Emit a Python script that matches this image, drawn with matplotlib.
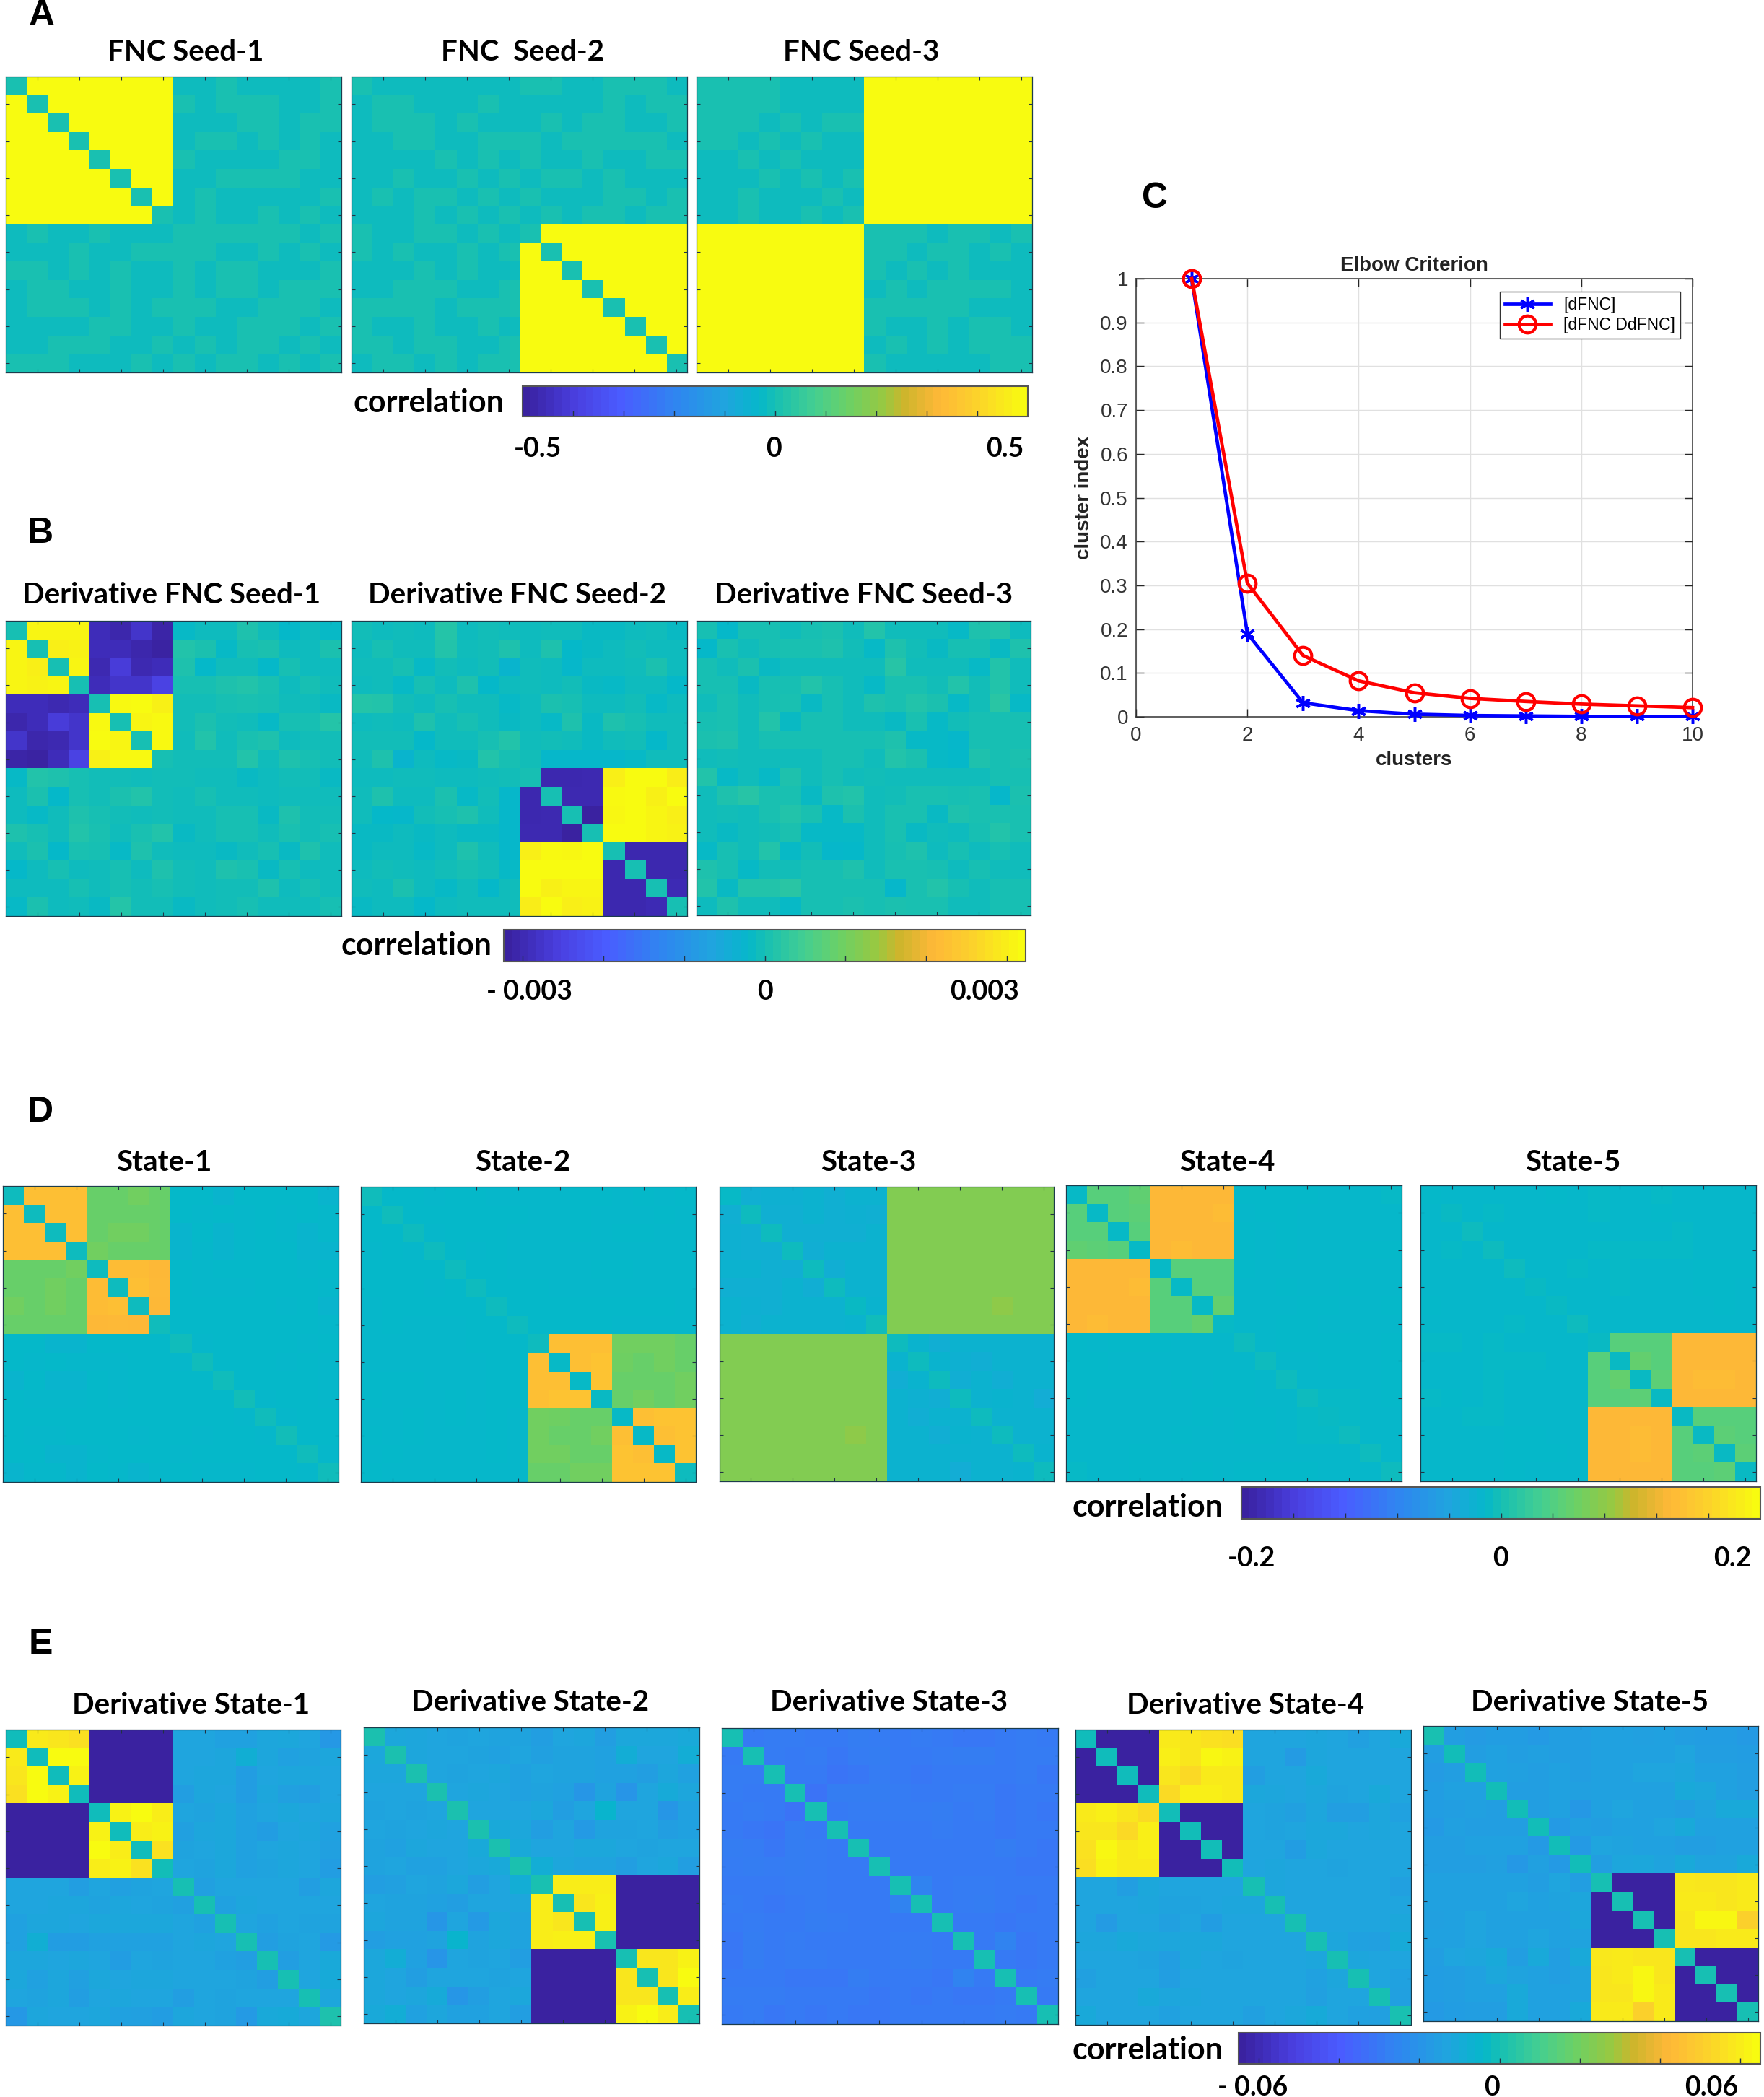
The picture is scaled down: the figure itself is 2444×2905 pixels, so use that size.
import numpy as np
import matplotlib
matplotlib.use("Agg")
import matplotlib.pyplot as plt
from matplotlib.colors import LinearSegmentedColormap

W, H = 2444, 2905

# cells are percent of the colour limit of the row of panels, upper triangle only
fnc_seed1 = [
    [1] + [100]*7 + [-3, -3, 1, -3, -3, -3, -3, 1],
    [1] + [100]*6 + [1, -3, 1, 1, 1, -3, -3, 1],
    [1] + [100]*5 + [-3, -3, -3, 1, 1, -3, 1, 1],
    [1] + [100]*4 + [-3, 1, 1, -3, 1, -3, 1, -3],
    [1] + [100]*3 + [1, -3, -3, -3, -3, 1, 1, -3],
    [1] + [100]*2 + [-3, -3, 1, 1, 1, 1, -3, -3],
    [1, 100, -3, 1, -3, -3, -3, -3, -3, 1],
    [1, -3, 1, -3, -3, 1, -3, 1, -3],
    [1, 1, 1, 1, 1, 1, -3, 1],
    [1, -3, -3, 1, -3, 1, -3],
    [1, 1, -3, -3, -3, 1],
    [1, -3, 1, 1, 1],
    [1, 1, 1, -3],
    [1, -3, 1],
    [1, -3],
    [1],
]
fnc_seed2 = [
    [1, -3, -3, -3, -3, -3, -3, -3, 1, 1, -3, -3, 1, 1, 1, -3],
    [1, 1, -3, -3, -3, 1, -3, -3, -3, -3, -3, 1, -3, 1, 1],
    [1, 1, -3, 1, -3, -3, -3, 1, -3, 1, 1, -3, -3, 1],
    [1, -3, -3, 1, 1, 1, -3, 1, 1, 1, 1, 1, -3],
    [1, -3, 1, -3, 1, -3, -3, 1, -3, -3, 1, 1],
    [1, -3, 1, -3, 1, 1, -3, 1, -3, -3, -3],
    [1, -3, 1, -3, -3, -3, 1, 1, -3, 1],
    [1, -3, 1, -3, 1, 1, -3, 1, 1],
    [1] + [100]*7,
    [1] + [100]*6,
    [1] + [100]*5,
    [1] + [100]*4,
    [1] + [100]*3,
    [1, 100, 100],
    [1, 100],
    [1],
]
fnc_seed3 = [
    [1, 1, 1, 1, -3, -3, -3, -3] + [100]*8,
    [1, 1, 1, -3, -3, -3, -3] + [100]*8,
    [1, -3, 1, -3, 1, 1] + [100]*8,
    [1, -3, 1, -3, -3] + [100]*8,
    [1, -3, -3, -3] + [100]*8,
    [1, -3, 1] + [100]*8,
    [1, -3] + [100]*8,
    [1] + [100]*8,
    [1, 1, 1, -3, 1, 1, -3, 1],
    [1, -3, 1, 1, -3, 1, -3],
    [1, -3, 1, -3, -3, -3],
    [1, 1, 1, 1, -3],
    [1, -3, -3, -3],
    [1, 1, -3],
    [1, 1],
    [1],
]
dfnc_seed1 = [
    [0, 97, 97, 97, -92, -96, -86, -97, -5, -3, -3, 3, -2, -6, -3, -5],
    [0, 94, 96, -92, -92, -96, -99, 4, 2, -5, 0, 2, -3, -3, 2],
    [0, 97, -94, -82, -94, -92, 3, -6, -2, -2, -6, 0, -3, -3],
    [0, -92, -86, -86, -78, 0, 0, 3, 4, 1, -3, 0, -2],
    [0, 99, 100, 95, -1, -1, 0, 1, 0, -2, -2, -4],
    [0, 97, 99, -1, 2, -1, -2, -5, 0, 0, 5],
    [0, 99, -2, 4, -2, 1, 3, -3, -1, -1],
    [0, -1, -1, -1, 4, -2, 3, 0, -1],
    [-1, -2, -2, -4, -3, -1, -1, -4],
    [0, -2, -2, -3, -2, -2, -2],
    [0, 0, -4, 3, -1, -1],
    [0, -2, 1, -1, 0],
    [0, -4, 3, -2],
    [0, -3, -2],
    [0, -2],
    [0],
]
dfnc_seed2 = [
    [-1, -3, -2, -3, 5, -3, -1, -2, -3, -2, -2, -4, -4, -3, -2, -4],
    [0, -2, -2, 4, -2, -1, 3, -3, 3, -6, -4, -3, -1, -3, -3],
    [0, -5, -1, -3, -1, -8, -2, -3, -7, -3, -3, -2, 2, -3],
    [0, -3, 3, -6, -3, -2, -3, -1, -4, -5, -3, -3, -6],
    [0, -2, -2, -5, -3, 2, 0, -3, -3, -1, -5, -3],
    [0, -2, -4, -3, -5, 3, -4, 3, 0, -2, -2],
    [0, 4, -2, -1, -2, -4, -2, -1, -6, -2],
    [0, -1, -7, -7, -7, -7, -5, -2, -2],
    [0, -95, -95, -94, 94, 100, 100, 93],
    [0, -94, -94, 99, 100, 95, 100],
    [0, -100, 98, 100, 97, 94],
    [0, 100, 100, 97, 96],
    [0, -95, -95, -95],
    [0, -95, -95],
    [0, -93],
    [0],
]
dfnc_seed3 = [
    [0, -6, 0, 0, -2, 0, 2, -2, 4, -2, -2, -2, -5, 3, 4, -3],
    [1, -2, 0, 1, 1, 3, -1, -5, 3, -1, -4, 0, 0, -4, 3],
    [2, -4, -2, -2, -2, -2, -2, 6, -2, -2, -2, -5, 4, -2],
    [0, 0, 4, 0, -2, -5, 1, 1, -1, 4, -1, 4, -2],
    [1, -4, 0, -2, 3, 1, 4, 2, -5, -1, 7, -5],
    [0, 0, -2, -2, -4, 1, -5, -1, 0, 0, 0],
    [0, 0, 0, 3, -5, -5, -7, 0, 0, 0],
    [0, -2, 4, 2, -5, -6, 3, 0, 2],
    [-1, -2, -2, -2, -2, -2, 0, 0],
    [-1, 1, 1, 0, 1, -7, 2],
    [1, -4, 3, 1, 1, 1],
    [-2, -3, 0, 4, 1],
    [0, -3, 0, -2],
    [0, -2, -2],
    [0, 0],
    [0],
]

state1 = [
    [-3, 70, 70, 70, 28, 28, 31, 28, -6, -6, -8, -6, -6, -6, -6, -8],
    [-3, 70, 70, 28, 28, 28, 28, -6, -7, -6, -7, -6, -7, -6, -7],
    [-3, 70, 28, 31, 31, 28, -8, -6, -8, -7, -6, -7, -8, -7],
    [-3, 31, 28, 28, 28, -8, -7, -8, -7, -6, -6, -8, -8],
    [-3, 68, 68, 66, -6, -7, -6, -6, -6, -6, -7, -6],
    [-3, 70, 67, -6, -7, -7, -7, -6, -6, -6, -7],
    [-3, 66, -6, -6, -6, -6, -6, -7, -6, -8],
    [-2, -6, -6, -6, -6, -6, -6, -6, -7],
    [-2, -7, -6, -6, -6, -6, -7, -6],
    [-2, -6, -6, -6, -7, -6, -7],
    [-2, -6, -6, -6, -6, -7],
    [-1, -7, -6, -6, -7],
    [-2, -7, -6, -6],
    [-1, -6, -6],
    [-2, -7],
    [-2],
]
state2 = [
    [-2, -6, -6, -7, -6, -6, -7, -7, -7, -7, -6, -6, -7, -6, -7, -6],
    [-2, -6, -6, -6, -6, -6, -6, -7, -7, -6, -7, -7, -7, -6, -7],
    [-3, -7, -6, -6, -6, -7, -7, -7, -6, -7, -6, -6, -7, -7],
    [-3, -6, -7, -6, -7, -7, -7, -7, -7, -7, -7, -7, -7],
    [-3, -6, -6, -7, -7, -7, -7, -6, -6, -7, -7, -7],
    [-3, -6, -6, -6, -7, -7, -7, -7, -7, -7, -7],
    [-3, -6, -6, -6, -6, -6, -6, -6, -6, -7],
    [-3, -6, -6, -6, -6, -7, -7, -7, -7],
    [-3, 70, 70, 70, 31, 31, 31, 28],
    [-5, 70, 72, 30, 28, 31, 28],
    [-5, 72, 28, 28, 28, 31],
    [-4, 28, 31, 28, 31],
    [-5, 70, 72, 72],
    [-5, 70, 72],
    [-5, 72],
    [-3],
]
state3 = [
    [-5, -12, -11, -11, -10, -12, -10, -10] + [36]*8,
    [-3, -12, -12, -10, -12, -11, -12] + [36]*8,
    [-3, -12, -12, -12, -12, -10] + [36]*8,
    [-3, -13, -10, -10, -10] + [36]*8,
    [-3, -13, -10, -10] + [36]*8,
    [-3, -10, -10] + [36]*8,
    [-4, -9, 36, 36, 36, 36, 36, 40, 36, 36],
    [-2] + [36]*8,
    [-3, -9, -13, -10, -10, -10, -10, -10],
    [-3, -9, -11, -13, -10, -10, -10],
    [-3, -13, -10, -13, -10, -10],
    [-3, -10, -9, -10, -14],
    [-3, -10, -10, -10],
    [-3, -10, -10],
    [-3, -9],
    [-3],
]
state4 = [
    [-5, 22, 22, 25, 66, 66, 66, 66, -6, -6, -6, -6, -7, -7, -7, -5],
    [-5, 22, 24, 66, 66, 66, 68, -7, -6, -6, -7, -7, -7, -7, -7],
    [-5, 22, 66, 66, 66, 66, -6, -7, -6, -7, -7, -7, -7, -7],
    [-5, 66, 68, 66, 66, -6, -7, -6, -7, -7, -7, -6, -6],
    [-5, 22, 22, 22, -6, -7, -7, -7, -7, -7, -7, -7],
    [-5, 22, 22, -7, -7, -6, -7, -7, -6, -7, -7],
    [-5, 26, -7, -7, -7, -6, -6, -7, -7, -6],
    [-5, -7, -7, -6, -6, -7, -7, -7, -7],
    [-3, -7, -6, -6, -6, -6, -7, -6],
    [-3, -7, -7, -6, -6, -7, -6],
    [-3, -7, -7, -7, -7, -6],
    [-3, -5, -5, -7, -6],
    [-4, -5, -7, -7],
    [-3, -7, -7],
    [-3, -7],
    [-3],
]
state5 = [
    [-6, -7, -7, -7, -7, -7, -6, -7, -5, -7, -7, -5, -7, -7, -7, -7],
    [-4, -7, -5, -7, -7, -7, -7, -5, -7, -7, -6, -7, -7, -7, -7],
    [-3, -7, -7, -7, -7, -7, -7, -7, -7, -7, -5, -7, -7, -7],
    [-3, -7, -7, -7, -7, -5, -5, -5, -5, -5, -7, -7, -7],
    [-3, -7, -7, -5, -7, -5, -7, -7, -7, -6, -6, -6],
    [-4, -7, -7, -7, -5, -7, -7, -7, -6, -6, -7],
    [-4, -7, -7, -7, -7, -7, -7, -7, -6, -7],
    [-3, -7, -7, -7, -7, -7, -7, -7, -7],
    [-4, 22, 22, 22, 66, 66, 66, 66],
    [-4, 26, 22, 66, 66, 66, 66],
    [-4, 24, 66, 68, 68, 66],
    [-4, 66, 66, 66, 66],
    [-4, 22, 22, 22],
    [-4, 24, 22],
    [-4, 24],
    [-4],
]

dstate1 = [
    [-2, 92, 90, 87] + [-100]*4 + [-20, -20, -22, -22, -19, -18, -20, -28],
    [-2, 100, 100] + [-100]*4 + [-20, -20, -19, -13, -19, -22, -21, -19],
    [-2, 96] + [-100]*4 + [-20, -19, -19, -25, -20, -19, -19, -20],
    [-2] + [-100]*4 + [-24, -19, -20, -25, -19, -23, -24, -20],
    [-2, 96, 100, 93, -20, -21, -18, -22, -20, -18, -20, -19],
    [-2, 93, 96, -23, -19, -18, -22, -25, -20, -19, -22],
    [-2, 88, -21, -20, -18, -22, -20, -19, -20, -23],
    [-1, -20, -21, -18, -22, -21, -19, -20, -25],
    [0, -23, -20, -20, -20, -20, -24, -19],
    [0, -22, -19, -20, -20, -20, -20],
    [0, -20, -22, -20, -21, -21],
    [0, -24, -21, -20, -27],
    [0, -24, -20, -17],
    [0, -20, -16],
    [0, -19],
    [3],
]
dstate2 = [
    [2, -18, -19, -20, -21, -20, -21, -21, -24, -20, -19, -24, -18, -18, -18, -17],
    [2, -19, -20, -20, -21, -22, -20, -23, -21, -21, -22, -14, -20, -20, -14],
    [2, -20, -21, -20, -19, -22, -20, -21, -21, -22, -22, -24, -19, -22],
    [2, -20, -19, -20, -22, -21, -22, -29, -21, -30, -20, -16, -19],
    [2, -20, -20, -20, -18, -24, -20, -8, -20, -20, -29, -22],
    [2, -17, -18, -24, -20, -27, -21, -21, -20, -24, -22],
    [2, -17, -20, -20, -18, -18, -20, -21, -20, -20],
    [2, -14, -19, -21, -21, -24, -20, -18, -24],
    [1, 93, 93, 93] + [-100]*4,
    [0, 90, 95] + [-100]*4,
    [0, 95] + [-100]*4,
    [1] + [-100]*4,
    [0, 90, 90, 96],
    [0, 90, 100],
    [0, 93],
    [0],
]
dstate3 = [
    [0, -46, -45, -45, -46, -46, -44, -45, -46, -45, -46, -47, -47, -46, -45, -46],
    [0, -45, -46, -45, -47, -45, -44, -46, -46, -45, -44, -44, -46, -45, -45],
    [0, -46, -46, -49, -47, -45, -46, -47, -46, -46, -46, -46, -45, -47],
    [0, -50, -44, -44, -44, -45, -46, -46, -45, -45, -47, -46, -46],
    [0, -46, -45, -45, -45, -45, -44, -46, -45, -47, -46, -47],
    [0, -46, -46, -46, -46, -45, -46, -46, -47, -46, -46],
    [0, -46, -46, -46, -46, -46, -46, -44, -46, -47],
    [0, -46, -46, -46, -46, -46, -46, -47, -47],
    [0, -41, -46, -45, -45, -46, -46, -46],
    [0, -46, -45, -44, -46, -47, -46],
    [0, -46, -46, -47, -46, -46],
    [0, -46, -41, -47, -46],
    [0, -46, -47, -46],
    [0, -46, -45],
    [0, -46],
    [0],
]
dstate4 = [
    [-2, -100, -100, -100, 92, 90, 88, 86, -20, -20, -20, -19, -20, -23, -20, -17],
    [-2, -100, -100, 94, 90, 98, 96, -20, -20, -26, -19, -20, -20, -20, -20],
    [-2, -100, 90, 84, 92, 92, -24, -20, -20, -17, -20, -20, -20, -20],
    [-2, 85, 94, 94, 92, -18, -19, -20, -18, -21, -20, -17, -20],
    [-1, -100, -100, -100, -20, -21, -23, -19, -24, -24, -19, -22],
    [-1, -100, -100, -20, -21, -20, -18, -18, -20, -19, -20],
    [-1, -100, -20, -20, -25, -18, -20, -20, -20, -20],
    [-1, -20, -19, -20, -20, -21, -20, -20, -20],
    [0, -19, -20, -20, -20, -20, -20, -23],
    [0, -20, -20, -20, -20, -20, -20],
    [0, -20, -20, -20, -20, -18],
    [0, -19, -22, -23, -16],
    [0, -19, -20, -20],
    [0, -20, -22],
    [0, -23],
    [1],
]
dstate5 = [
    [1, -24, -26, -25, -25, -27, -24, -24, -22, -22, -23, -22, -24, -25, -25, -27],
    [-1, -24, -22, -24, -23, -24, -24, -22, -22, -22, -22, -20, -24, -24, -25],
    [-1, -22, -23, -24, -22, -24, -22, -22, -20, -20, -19, -22, -22, -24],
    [-1, -24, -24, -22, -23, -22, -22, -22, -22, -17, -18, -22, -24],
    [-1, -24, -22, -28, -22, -20, -22, -22, -24, -21, -17, -17],
    [-1, -27, -23, -24, -22, -22, -20, -17, -22, -22, -22],
    [-1, -27, -20, -21, -22, -22, -24, -24, -22, -22],
    [-1, -24, -19, -18, -21, -17, -21, -21, -17],
    [0, -100, -100, -100, 91, 90, 90, 92],
    [0, -100, -100, 92, 92, 90, 92],
    [0, -100, 90, 98, 98, 80],
    [0, 90, 90, 92, 92],
    [0, -100, -100, -100],
    [0, -100, -100],
    [0, -100],
    [0],
]

clusters = [1, 2, 3, 4, 5, 6, 7, 8, 9, 10]
dfnc_index = [1, 0.19, 0.032, 0.014, 0.006, 0.003, 0.002, 0.001, 0.001, 0.001]
both_index = [1, 0.305, 0.14, 0.082, 0.055, 0.042, 0.035, 0.029, 0.025, 0.021]

anchors = [(0, "#3a22a0"), (0.05, "#4030c0"), (0.1, "#4a3fe0"), (0.19, "#4a5cff"),
           (0.3, "#2f86f0"), (0.4, "#1fa5de"), (0.47, "#05b8ca"), (0.5, "#16bfb4"),
           (0.58, "#45cf90"), (0.65, "#6ed063"), (0.72, "#9ac840"), (0.76, "#cdb52c"),
           (0.83, "#feb838"), (0.9, "#fcd02c"), (1, "#f8fb10")]
cmap = LinearSegmentedColormap.from_list("fnc", anchors, N=256)

fig = plt.figure(figsize=(W/100, H/100), dpi=100, facecolor="white")


def px_axes(x0, y0, x1, y1):
    return fig.add_axes([x0/W, 1 - y1/H, (x1 - x0)/W, (y1 - y0)/H])


def label(x, y, s, size=29, family="Lato", **kw):
    fig.text(x/W, 1 - y/H, s, fontsize=size, family=family, fontweight="bold",
             ha="center", va="center", color="black", **kw)


def sym(rows):
    m = np.zeros((16, 16))
    for i, row in enumerate(rows):
        m[i, i:] = row
        m[i:, i] = row
    return m


def panel(box, rows, lim, title, title_xy):
    ax = px_axes(*box)
    ax.imshow(sym(rows)/100*lim, cmap=cmap, vmin=-lim, vmax=lim, aspect="auto",
              interpolation="nearest", extent=(0.5, 16.5, 16.5, 0.5))
    ax.set_xticks(range(2, 17, 2))
    ax.set_yticks(range(2, 17, 2))
    ax.tick_params(direction="in", length=3.5, width=0.8, color="#223344",
                   top=True, right=True, labelbottom=False, labelleft=False)
    for s in ax.spines.values():
        s.set_linewidth(0.9)
        s.set_color("#1c3c4c")
    label(title_xy[0], title_xy[1], title)
    return ax


def colorbar(box, lim, ticks, text_xy, names, name_xy):
    cax = px_axes(*box)
    sm = plt.cm.ScalarMappable(norm=plt.Normalize(-lim, lim), cmap=cmap.resampled(64))
    cb = fig.colorbar(sm, cax=cax, orientation="horizontal")
    cb.set_ticks(ticks)
    cb.minorticks_off()
    cax.tick_params(axis="x", direction="in", length=6, width=1, color="#223344",
                    labelbottom=False)
    cb.outline.set_edgecolor("#555555")
    cb.outline.set_linewidth(1.5)
    label(name_xy[0], name_xy[1], "correlation", size=31)
    for (x, y), s in zip(text_xy, names):
        label(x, y, s, size=27)


# A
panel((8, 106, 473, 516), fnc_seed1, 0.5, "FNC Seed-1", (257, 72))
panel((487, 106, 952, 516), fnc_seed2, 0.5, "FNC  Seed-2", (724, 72))
panel((965, 106, 1430, 516), fnc_seed3, 0.5, "FNC Seed-3", (1193, 72))
colorbar((724, 535, 1424, 577), 0.5, np.arange(-0.4, 0.41, 0.1),
         [(745, 622), (1072, 622), (1392, 622)], ["-0.5", "0", "0.5"], (594, 558))

# B
panel((8, 860, 473, 1269), dfnc_seed1, 0.0032, "Derivative FNC Seed-1", (238, 824))
panel((487, 860, 952, 1269), dfnc_seed2, 0.0032, "Derivative FNC Seed-2", (717, 824))
panel((965, 860, 1428, 1268), dfnc_seed3, 0.0032, "Derivative FNC Seed-3", (1197, 824))
colorbar((698, 1288, 1421, 1332), 0.00323, np.arange(-0.003, 0.0031, 0.001),
         [(733, 1374), (1060, 1374), (1364, 1374)], ["- 0.003", "0", "0.003"], (577, 1310))

# D
panel((4, 1643, 469, 2053), state1, 0.25, "State-1", (227, 1611))
panel((500, 1644, 964, 2053), state2, 0.25, "State-2", (724, 1611))
panel((997, 1644, 1460, 2052), state3, 0.25, "State-3", (1203, 1611))
panel((1477, 1642, 1942, 2052), state4, 0.25, "State-4", (1700, 1611))
panel((1968, 1642, 2433, 2052), state5, 0.25, "State-5", (2179, 1611))
colorbar((1720, 2060, 2439, 2104), 0.25, np.arange(-0.2, 0.21, 0.05),
         [(1734, 2159), (2079, 2159), (2400, 2159)], ["-0.2", "0", "0.2"], (1590, 2088))

# E
panel((8, 2396, 472, 2806), dstate1, 0.065, "Derivative State-1", (265, 2363))
panel((504, 2393, 969, 2803), dstate2, 0.065, "Derivative State-2", (735, 2358))
panel((1000, 2394, 1466, 2804), dstate3, 0.065, "Derivative State-3", (1232, 2358))
panel((1490, 2396, 1955, 2805), dstate4, 0.065, "Derivative State-4", (1726, 2362))
panel((1972, 2391, 2436, 2800), dstate5, 0.065, "Derivative State-5", (2203, 2358))
colorbar((1716, 2816, 2439, 2859), 0.065, np.arange(-0.06, 0.061, 0.02),
         [(1736, 2892), (2067, 2892), (2371, 2892)], ["- 0.06", "0", "0.06"], (1590, 2840))

# C
ax = px_axes(1574, 386, 2345, 993)
ax.plot(clusters, dfnc_index, color="#0000ff", lw=3.4, marker=(6, 2, 0), ms=15, mew=2.5,
        label="[dFNC]", clip_on=False, zorder=3)
ax.plot(clusters, both_index, color="#ff0000", lw=3.4, marker="o", ms=17, mew=3,
        mfc="none", label="[dFNC DdFNC]", clip_on=False, zorder=4)
ax.set_xlim(0, 10)
ax.set_ylim(0, 1)
ax.set_xticks(range(0, 11, 2))
ax.set_yticks(np.arange(0, 1.01, 0.1))
ax.set_yticklabels(["0", "0.1", "0.2", "0.3", "0.4", "0.5", "0.6", "0.7", "0.8", "0.9", "1"])
ax.grid(color="#e0e0e0", lw=1)
ax.set_axisbelow(True)
ax.tick_params(direction="in", length=8, width=1, color="#262626", top=True, right=True,
               labelsize=20, labelcolor="#333333")
ax.tick_params(axis="x", pad=9)
ax.tick_params(axis="y", pad=8)
for t in ax.get_xticklabels() + ax.get_yticklabels():
    t.set_family("Liberation Sans")
for s in ax.spines.values():
    s.set_color("#333333")
    s.set_linewidth(1.1)
ax.set_title("Elbow Criterion", family="Liberation Sans", fontweight="bold", fontsize=20, pad=8,
             color="#222222")
ax.set_xlabel("clusters", family="Liberation Sans", fontweight="bold", fontsize=20, labelpad=6,
              color="#222222")
ax.set_ylabel("cluster index", family="Liberation Sans", fontweight="bold", fontsize=20, labelpad=7,
              color="#222222")
leg = ax.legend(loc="upper right", bbox_to_anchor=(0.978, 0.97), borderaxespad=0, fancybox=False,
                framealpha=1, edgecolor="#333333", handlelength=2.75, labelspacing=0.2, borderpad=0.3,
                prop={"family": "Liberation Sans", "size": 16.5})
leg.get_frame().set_linewidth(1)

for x, y, s in [(58, 22, "A"), (56, 739, "B"), (1600, 275, "C"), (56, 1541, "D"), (56, 2278, "E")]:
    label(x, y, s, size=36, family="Liberation Sans")

fig.savefig("out.png", dpi=100)
